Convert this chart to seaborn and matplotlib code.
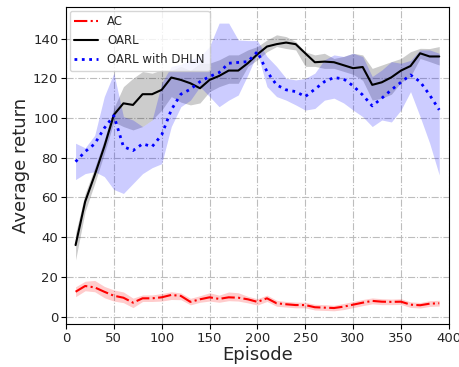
import numpy as np
import pandas as pd
import matplotlib
matplotlib.use("Agg")
import matplotlib.pyplot as plt
import seaborn as sns

# --- data ---
episodes = list(range(10, 400, 10))

ac_mean = [12.5, 15.4, 14.7, 12.5, 10.5, 9.5, 7.0, 9.2, 9.2, 9.7,
           10.9, 10.4, 7.4, 8.7, 9.7, 8.9, 9.7, 9.5, 8.7, 7.4,
           9.2, 6.7, 6.2, 5.8, 5.8, 4.7, 4.5, 4.3, 5.0, 6.0,
           7.0, 7.9, 7.5, 7.4, 7.5, 6.0, 5.7, 6.5, 6.7]
ac_lo = [10.0, 13.0, 12.5, 9.5, 7.8, 7.0, 4.5, 7.6, 7.6, 7.8,
         8.6, 8.5, 5.9, 7.2, 7.8, 7.2, 8.0, 7.8, 6.9, 5.8,
         7.6, 5.2, 4.8, 4.4, 4.4, 3.3, 3.1, 2.9, 3.5, 4.5,
         5.5, 6.4, 6.0, 6.0, 6.1, 4.6, 4.3, 5.1, 5.3]
ac_hi = [15.0, 17.8, 18.2, 15.2, 13.4, 12.4, 9.3, 10.9, 10.9, 11.6,
         12.5, 11.9, 9.2, 10.5, 12.0, 10.8, 12.4, 12.0, 10.2, 9.0,
         10.8, 8.2, 7.6, 7.3, 7.2, 6.2, 6.0, 5.7, 6.6, 7.6,
         8.6, 9.4, 9.0, 8.8, 9.0, 7.4, 7.1, 8.0, 8.2]

oarl_mean = [36.0, 57.9, 71.3, 85.6, 101.6, 107.4, 106.6, 112.0, 112.0, 114.2,
             120.4, 119.2, 117.5, 115.0, 119.2, 121.2, 123.9, 123.9, 127.6, 132.1,
             136.0, 137.2, 138.0, 137.2, 132.6, 128.1, 128.4, 128.1, 126.6, 125.1,
             125.7, 116.7, 118.0, 120.5, 123.9, 126.2, 132.6, 131.0, 131.0]
oarl_lo = [28.5, 53.0, 67.0, 82.0, 98.0, 95.7, 94.0, 95.7, 99.0, 104.0,
           110.8, 108.0, 106.6, 107.6, 113.3, 115.8, 117.5, 117.5, 126.0, 129.3,
           133.4, 136.0, 135.0, 134.3, 126.0, 126.0, 125.0, 125.0, 123.5, 122.0,
           119.0, 109.0, 110.0, 112.0, 118.0, 121.0, 130.0, 128.4, 126.7]
oarl_hi = [42.0, 62.0, 75.0, 89.0, 105.0, 115.8, 120.0, 123.4, 122.6, 124.2,
           124.0, 126.0, 124.0, 127.6, 127.6, 129.3, 131.8, 131.8, 134.3, 136.0,
           139.3, 141.9, 141.0, 138.5, 133.4, 131.8, 132.6, 130.0, 131.0, 132.6,
           131.8, 125.0, 126.7, 128.4, 130.0, 133.4, 135.1, 135.0, 136.0]

dhln_mean = [78.0, 83.1, 87.0, 94.9, 101.2, 85.6, 83.6, 87.0, 85.6, 91.5,
             104.1, 112.0, 114.5, 118.3, 120.9, 122.9, 127.6, 128.0, 128.4, 133.4,
             123.4, 116.7, 114.2, 113.3, 110.8, 114.5, 118.3, 120.4, 119.7, 116.2,
             111.6, 106.1, 110.0, 114.2, 118.0, 121.7, 118.3, 111.6, 104.1]
dhln_lo = [69.0, 72.0, 73.0, 70.5, 64.0, 62.0, 67.0, 72.0, 75.0, 77.0,
           95.7, 105.7, 109.0, 115.8, 110.8, 105.7, 109.0, 111.6, 121.7, 132.6,
           115.8, 110.8, 109.0, 106.6, 104.0, 104.8, 109.0, 110.0, 107.6, 104.0,
           100.7, 95.7, 99.0, 98.0, 104.0, 113.3, 100.7, 87.3, 71.3]
dhln_hi = [87.3, 85.0, 91.3, 110.8, 122.6, 100.7, 99.0, 95.7, 99.0, 117.6,
           126.0, 127.0, 129.3, 131.0, 136.0, 147.8, 147.8, 139.3, 139.0, 139.0,
           131.0, 126.0, 120.0, 119.2, 119.9, 122.6, 129.3, 131.8, 131.0, 132.6,
           131.0, 120.9, 124.2, 128.4, 127.6, 129.0, 134.3, 134.3, 132.6]

df = pd.DataFrame({"Episode": episodes, "AC": ac_mean, "OARL": oarl_mean,
                   "OARL with DHLN": dhln_mean})

sns.set_style("ticks", {"axes.grid": True, "grid.linestyle": "-.",
                        "grid.color": "#bdbdbd", "axes.edgecolor": "black"})
plt.rcParams["font.family"] = ["DejaVu Sans"]

fig = plt.figure(figsize=(4.59, 3.67), dpi=100)
ax = fig.add_axes([0.1438, 0.1163, 0.834, 0.864])

ax.fill_between(episodes, ac_lo, ac_hi, color="red", alpha=0.2, linewidth=0)
ax.fill_between(episodes, oarl_lo, oarl_hi, color="black", alpha=0.2, linewidth=0)
ax.fill_between(episodes, dhln_lo, dhln_hi, color="blue", alpha=0.2, linewidth=0)

sns.lineplot(data=df, x="Episode", y="AC", ax=ax, color="red", linestyle="-.",
             linewidth=1.5, label="AC")
sns.lineplot(data=df, x="Episode", y="OARL", ax=ax, color="black", linestyle="-",
             linewidth=1.5, label="OARL")
sns.lineplot(data=df, x="Episode", y="OARL with DHLN", ax=ax, color="blue",
             linestyle=":", linewidth=2, label="OARL with DHLN")

ax.set_xlim(0, 400)
ax.set_ylim(-3.9, 155.8)
ax.set_xticks(range(0, 401, 50))
ax.set_yticks(range(0, 141, 20))
ax.tick_params(labelsize=9.5, direction="out", length=3.5, pad=2, color="black")
ax.set_xlabel("Episode", fontsize=13, labelpad=1)
ax.set_ylabel("Average return", fontsize=13, labelpad=2)
ax.legend(loc="upper left", fontsize=8.5, frameon=True, fancybox=True,
          borderaxespad=0.3)

fig.savefig("out.png", dpi=100)
